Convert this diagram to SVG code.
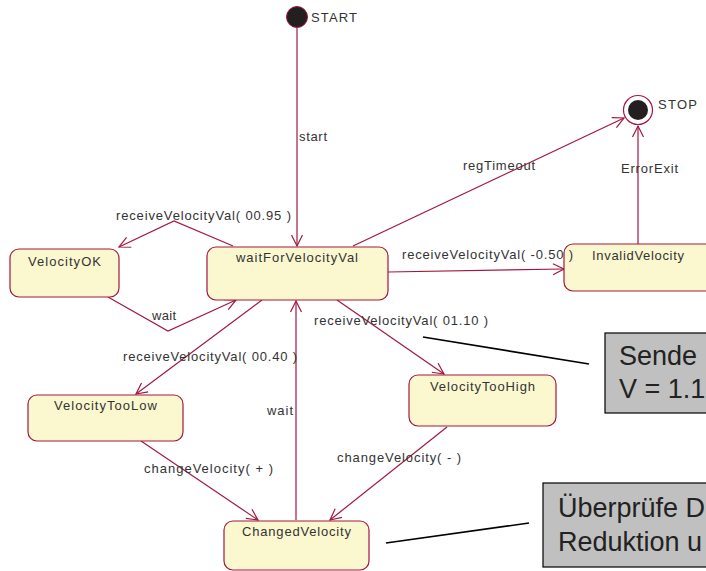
<svg xmlns="http://www.w3.org/2000/svg" width="706" height="571" viewBox="0 0 706 571">
  <style>
    .state rect { fill: #fbf8d0; stroke: #a3173f; stroke-width: 1.2; }
    .title { font-family: "Liberation Sans", Arial, sans-serif; font-size: 13px; fill: #333; }
    .lbl { font-family: "Liberation Sans", Arial, sans-serif; font-size: 13px; fill: #333; }
    .edge { fill: none; stroke: #a3173f; stroke-width: 1.2; marker-end: url(#open); }
    .anchor { fill: none; stroke: #000; stroke-width: 1.6; }
    .note rect { fill: #c0c0c0; stroke: #000; stroke-width: 1.2; }
    .note text { font-family: "Liberation Sans", Arial, sans-serif; font-size: 27px; fill: #222; }
  </style>
  <defs>
    <marker id="open" markerUnits="userSpaceOnUse" markerWidth="14" markerHeight="14" viewBox="-12 -7 14 14" refX="0" refY="0" orient="auto">
      <path d="M-11,-5.5 L0,0 L-11,5.5" fill="none" stroke="#a3173f" stroke-width="1.2"/>
    </marker>
  </defs>

  <rect width="706" height="571" fill="#fff"/>

  <!-- transitions -->
  <g id="connectors">
    <path class="edge" d="M297,28 L297,246"/>
    <path class="edge" d="M353,246 L624,118"/>
    <path class="edge" d="M638,244 L638,126"/>
    <path class="edge" d="M233,246 L174,221 L119,247"/>
    <path class="edge" d="M108,297 L168,331 L236,300"/>
    <path class="edge" d="M388,272 L564,269"/>
    <path class="edge" d="M337,300 L444,374"/>
    <path class="edge" d="M262,300 L136,394"/>
    <path class="edge" d="M296,520 L296,301"/>
    <path class="edge" d="M141,441 L258,520"/>
    <path class="edge" d="M447,427 L330,520"/>
    <path class="anchor" d="M423,337 L589,364"/>
    <path class="anchor" d="M386,543 L529,523"/>
  </g>

  <!-- pseudo states -->
  <g id="START">
    <circle cx="297" cy="17" r="10.5" fill="#231f20" stroke="#a3173f" stroke-width="1"/>
    <text class="lbl" x="311" y="22" textLength="46" lengthAdjust="spacing">START</text>
  </g>
  <g id="STOP">
    <circle cx="638" cy="110" r="14.5" fill="#fff" stroke="#a3173f" stroke-width="1.2"/>
    <circle cx="638" cy="110" r="10" fill="#231f20"/>
    <text class="lbl" x="658" y="109" textLength="39" lengthAdjust="spacing">STOP</text>
  </g>

  <!-- states -->
  <g id="waitForVelocityVal" class="state">
    <rect x="207" y="247" width="181" height="53" rx="9"/>
    <text class="title" x="236" y="262" textLength="122" lengthAdjust="spacing">waitForVelocityVal</text>
  </g>
  <g id="VelocityOK" class="state">
    <rect x="10" y="249" width="109" height="48" rx="9"/>
    <text class="title" x="28" y="266" textLength="73" lengthAdjust="spacing">VelocityOK</text>
  </g>
  <g id="InvalidVelocity" class="state">
    <rect x="564" y="244" width="152" height="47" rx="9"/>
    <text class="title" x="592" y="260" textLength="92" lengthAdjust="spacing">InvalidVelocity</text>
  </g>
  <g id="VelocityTooHigh" class="state">
    <rect x="409" y="375" width="147" height="51" rx="9"/>
    <text class="title" x="430" y="391" textLength="105" lengthAdjust="spacing">VelocityTooHigh</text>
  </g>
  <g id="VelocityTooLow" class="state">
    <rect x="28" y="395" width="155" height="46" rx="9"/>
    <text class="title" x="54" y="410" textLength="103" lengthAdjust="spacing">VelocityTooLow</text>
  </g>
  <g id="ChangedVelocity" class="state">
    <rect x="224" y="521" width="145" height="49" rx="9"/>
    <text class="title" x="242" y="536" textLength="109" lengthAdjust="spacing">ChangedVelocity</text>
  </g>

  <!-- transition labels, drawn above the states -->
  <g id="connector-labels">
    <text class="lbl" x="299" y="141" textLength="28" lengthAdjust="spacing">start</text>
    <text class="lbl" x="463" y="170" textLength="72" lengthAdjust="spacing">regTimeout</text>
    <text class="lbl" x="621" y="173" textLength="57" lengthAdjust="spacing">ErrorExit</text>
    <text class="lbl" x="116" y="220" textLength="175" lengthAdjust="spacing">receiveVelocityVal( 00.95 )</text>
    <text class="lbl" x="152" y="320" textLength="24" lengthAdjust="spacing">wait</text>
    <text class="lbl" x="402" y="259" textLength="171" lengthAdjust="spacing">receiveVelocityVal( -0.50 )</text>
    <text class="lbl" x="314" y="325" textLength="174" lengthAdjust="spacing">receiveVelocityVal( 01.10 )</text>
    <text class="lbl" x="123" y="361" textLength="174" lengthAdjust="spacing">receiveVelocityVal( 00.40 )</text>
    <text class="lbl" x="267" y="415" textLength="26" lengthAdjust="spacing">wait</text>
    <text class="lbl" x="144" y="473" textLength="129" lengthAdjust="spacing">changeVelocity( + )</text>
    <text class="lbl" x="337" y="462" textLength="124" lengthAdjust="spacing">changeVelocity( - )</text>
  </g>

  <!-- notes -->
  <g id="note1" class="note">
    <rect x="605" y="333" width="120" height="80"/>
    <text x="619" y="365">Sende</text>
    <text x="619" y="398">V = 1.1</text>
  </g>
  <g id="note2" class="note">
    <rect x="543" y="483" width="180" height="84"/>
    <text x="558" y="517">Überprüfe D</text>
    <text x="558" y="551">Reduktion u</text>
  </g>
</svg>
